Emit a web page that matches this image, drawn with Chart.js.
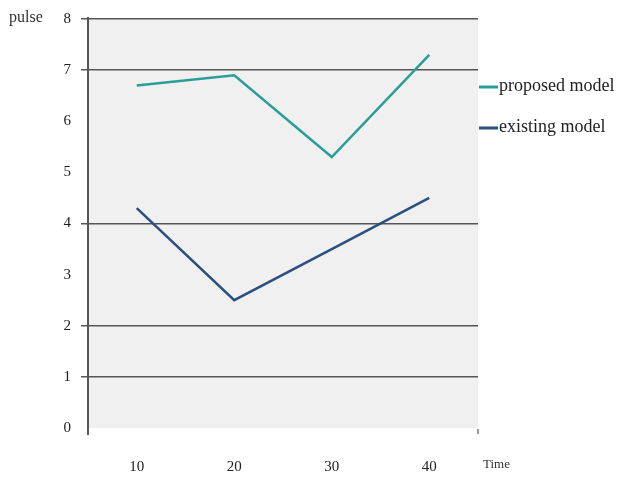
<!DOCTYPE html>
<html>
<head>
<meta charset="utf-8">
<script src="https://cdn.jsdelivr.net/npm/chart.js@4/dist/chart.umd.min.js"></script>
<style>
html,body{margin:0;padding:0;background:#fff;}
#wrap{width:627px;height:478px;position:relative;}
</style>
</head>
<body>
<div id="wrap"><canvas id="c" width="627" height="478"></canvas></div>
<script>
const categories = ['10', '20', '30', '40'];
const proposedModel = [6.7, 6.9, 5.3, 7.3];
const existingModel = [4.3, 2.5, 3.5, 4.5];
const seriesNames = ['proposed model', 'existing model'];
const yTitle = 'pulse';
const xTitle = 'Time';
const gridValues = [8, 7, 4, 2, 1];

const FONT = '"Liberation Serif", "DejaVu Serif", serif';

const decor = {
  id: 'decor',
  beforeDraw(chart) {
    const {ctx, chartArea: a} = chart;
    ctx.save();
    ctx.fillStyle = '#f0f0f0';
    ctx.fillRect(a.left, a.top, a.right - a.left, a.bottom - a.top);
    ctx.restore();
  },
  afterDraw(chart) {
    const {ctx, chartArea: a} = chart;
    ctx.save();
    // left axis line
    ctx.strokeStyle = '#555';
    ctx.lineWidth = 2;
    ctx.beginPath();
    ctx.moveTo(a.left, a.top - 2);
    ctx.lineTo(a.left, a.bottom + 7);
    ctx.stroke();
    // small tick at right end
    ctx.lineWidth = 1.2;
    ctx.beginPath();
    ctx.moveTo(a.right, a.bottom + 1);
    ctx.lineTo(a.right, a.bottom + 6);
    ctx.stroke();
    // titles
    ctx.fillStyle = '#333';
    ctx.font = '16px ' + FONT;
    ctx.textBaseline = 'middle';
    ctx.textAlign = 'left';
    ctx.fillText(yTitle, 9, 18);
    ctx.font = '13px ' + FONT;
    ctx.fillText(xTitle, 483, 465);
    // legend
    ctx.font = '18px ' + FONT;
    chart.data.datasets.forEach((ds, i) => {
      const y = 87 + i * 41;
      ctx.strokeStyle = ds.borderColor;
      ctx.lineWidth = 3;
      ctx.beginPath();
      ctx.moveTo(479, y);
      ctx.lineTo(498, y);
      ctx.stroke();
      ctx.fillStyle = '#222';
      ctx.fillText(ds.label, 499, y - 1);
    });
    ctx.restore();
  }
};

new Chart(document.getElementById('c'), {
  type: 'line',
  data: {
    labels: categories,
    datasets: [
      {label: seriesNames[0], data: proposedModel, borderColor: '#2a9d97', borderWidth: 2.5, pointRadius: 0, tension: 0},
      {label: seriesNames[1], data: existingModel, borderColor: '#2b4f7e', borderWidth: 2.5, pointRadius: 0, tension: 0}
    ]
  },
  options: {
    responsive: false,
    animation: false,
    layout: {padding: {top: 19, right: 149, left: 0, bottom: 0}},
    plugins: {legend: {display: false}, tooltip: {enabled: false}},
    scales: {
      x: {
        offset: true,
        grid: {display: false, drawTicks: false},
        border: {display: false},
        ticks: {color: '#222', font: {family: FONT, size: 15}, padding: 30, maxRotation: 0},
        afterFit(s) { s.height = 50; }
      },
      y: {
        min: 0, max: 8,
        ticks: {stepSize: 1, color: '#222', font: {family: FONT, size: 15}, padding: 10},
        grid: {
          color: (c) => gridValues.includes(c.tick && c.tick.value) ? '#555' : 'rgba(0,0,0,0)',
          lineWidth: 1.5,
          tickLength: 7
        },
        border: {display: false},
        afterFit(s) { s.width = 88; }
      }
    }
  },
  plugins: [decor]
});
</script>
</body>
</html>
